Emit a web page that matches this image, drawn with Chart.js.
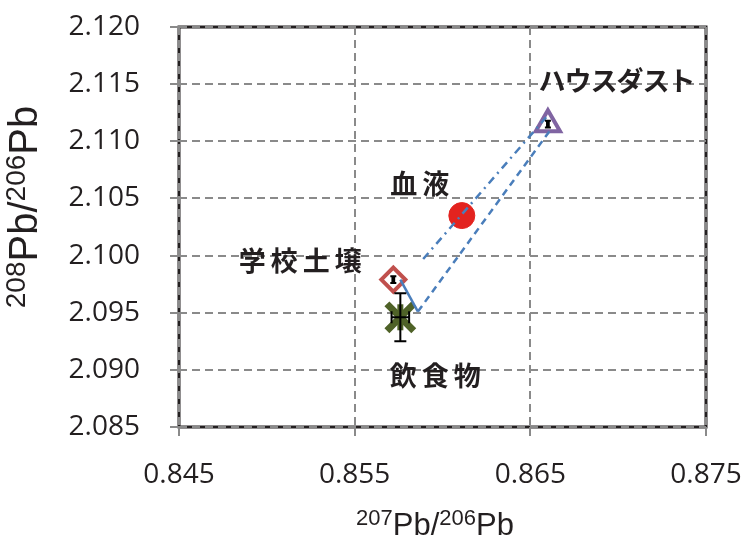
<!DOCTYPE html>
<html>
<head>
<meta charset="utf-8">
<script src="https://cdn.jsdelivr.net/npm/chart.js@4.4.0/dist/chart.umd.min.js"></script>
<style>
  html, body { margin: 0; padding: 0; background: #fff; }
  canvas { display: block; }
</style>
</head>
<body>
<canvas id="chart" width="747" height="540"></canvas>
<script>
// sample groups, 207Pb/206Pb (x) and 208Pb/206Pb (y)
const seriesNames = ['学校土壌', '飲食物', '血液', 'ハウスダスト'];
const pb207_206 = [0.8572, 0.8576, 0.8611, 0.8660];
const pb208_206 = [2.0979, 2.0946, 2.1035, 2.1115];
const errX = [0.00005, 0.0005, 0, 0.00005];
const errY = [0.0003, 0.0021, 0, 0.0003];

// connecting lines
const solidLineX = [0.8576, 0.8586];
const solidLineY = [2.0979, 2.0951];
const dashLineX = [0.8586, 0.8661];
const dashLineY = [2.0951, 2.1109];
const dashDotX = [0.8589, 0.8659];
const dashDotY = [2.0997, 2.1121];

const xTicks = [0.845, 0.855, 0.865, 0.875];
const yTicks = [2.085, 2.090, 2.095, 2.100, 2.105, 2.110, 2.115, 2.120];

const ink = '#231f20';

// marker look + where each name sits next to its marker (px)
const markerStyles = [
  { pointStyle: 'rectRot', radius: 12, border: '#c0504d', fill: '#ffffff', width: 4, cap: 3, label: [-93, -19], spacing: 5 },
  { pointStyle: 'crossRot', radius: 19, border: '#4f6228', fill: '#4f6228', width: 7, cap: 6, label: [35, 58], spacing: 5 },
  { pointStyle: 'circle', radius: 13, border: '#e3231f', fill: '#e3231f', width: 1, cap: 0, label: [-42, -32], spacing: 5 },
  { pointStyle: 'triangle', radius: 14, border: '#8064a2', fill: '#ffffff', width: 4, cap: 3, label: [69, -43], spacing: -1 }
];

function pts(xs, ys) {
  return xs.map((x, i) => ({ x: x, y: ys[i] }));
}

const datasets = [
  { data: pts(solidLineX, solidLineY), showLine: true, borderColor: '#4a7ebb', borderWidth: 2.5, pointRadius: 0, order: 0 },
  { data: pts(dashLineX, dashLineY), showLine: true, borderColor: '#4a7ebb', borderWidth: 2.5, borderDash: [7, 5], pointRadius: 0, order: 0 },
  { data: pts(dashDotX, dashDotY), showLine: true, borderColor: '#4a7ebb', borderWidth: 2.5, borderDash: [8, 5, 2, 5], pointRadius: 0, order: 0 }
];

seriesNames.forEach((name, i) => {
  const s = markerStyles[i];
  datasets.push({
    label: name,
    data: [{ x: pb207_206[i], y: pb208_206[i] }],
    pointStyle: s.pointStyle,
    pointRadius: s.radius,
    pointBorderWidth: s.width,
    pointBorderColor: s.border,
    pointBackgroundColor: s.fill,
    order: 2
  });
});
// vertical stroke of the star marker
datasets.push({
  data: [{ x: pb207_206[1], y: pb208_206[1] }],
  pointStyle: 'line',
  rotation: 90,
  pointRadius: 13,
  pointBorderWidth: 6,
  pointBorderColor: '#4f6228',
  order: 1
});

function drawIsotope(ctx, parts, big, sup, raise) {
  let total = 0;
  parts.forEach(p => {
    ctx.font = (p[1] ? sup : big) + 'px "Liberation Sans", Arial, sans-serif';
    total += ctx.measureText(p[0]).width;
  });
  let x = -total / 2;
  parts.forEach(p => {
    ctx.font = (p[1] ? sup : big) + 'px "Liberation Sans", Arial, sans-serif';
    ctx.fillText(p[0], x, p[1] ? -raise : 0);
    x += ctx.measureText(p[0]).width;
  });
}

const overlay = {
  id: 'overlay',
  beforeDraw(chart) {
    const { ctx, chartArea: a } = chart;
    ctx.save();
    ctx.strokeStyle = ink;
    ctx.lineWidth = 3;
    ctx.strokeRect(a.left, a.top, a.right - a.left, a.bottom - a.top);
    ctx.restore();
  },
  afterDatasetsDraw(chart) {
    const ctx = chart.ctx;
    const xs = chart.scales.x, ys = chart.scales.y;
    ctx.save();
    ctx.strokeStyle = '#000';
    ctx.lineWidth = 2;
    pb207_206.forEach((v, i) => {
      const px = xs.getPixelForValue(v);
      const py = ys.getPixelForValue(pb208_206[i]);
      const s = markerStyles[i];
      const cap = s.cap;
      ctx.beginPath();
      if (errY[i] > 0) {
        const t = ys.getPixelForValue(pb208_206[i] + errY[i]);
        const b = ys.getPixelForValue(pb208_206[i] - errY[i]);
        ctx.moveTo(px, t); ctx.lineTo(px, b);
        ctx.moveTo(px - cap, t); ctx.lineTo(px + cap, t);
        ctx.moveTo(px - cap, b); ctx.lineTo(px + cap, b);
      }
      if (errX[i] > 0) {
        const l = xs.getPixelForValue(v - errX[i]);
        const r = xs.getPixelForValue(v + errX[i]);
        ctx.moveTo(l, py); ctx.lineTo(r, py);
        ctx.moveTo(l, py - cap); ctx.lineTo(l, py + cap);
        ctx.moveTo(r, py - cap); ctx.lineTo(r, py + cap);
      }
      ctx.stroke();

      // group name
      ctx.fillStyle = ink;
      ctx.font = 'bold 27px "Noto Sans CJK JP", sans-serif';
      ctx.letterSpacing = s.spacing + 'px';
      ctx.textAlign = 'center';
      ctx.textBaseline = 'middle';
      ctx.fillText(seriesNames[i], px + s.label[0] + s.spacing / 2, py + s.label[1]);
    });
    ctx.restore();
  },
  afterDraw(chart) {
    const ctx = chart.ctx;
    ctx.save();
    ctx.fillStyle = ink;
    ctx.textAlign = 'left';
    ctx.textBaseline = 'alphabetic';
    ctx.translate(435, 535);
    drawIsotope(ctx, [['207', 1], ['Pb/', 0], ['206', 1], ['Pb', 0]], 31, 22, 10);
    ctx.restore();
    ctx.save();
    ctx.fillStyle = ink;
    ctx.textAlign = 'left';
    ctx.textBaseline = 'alphabetic';
    ctx.translate(37, 207);
    ctx.rotate(-Math.PI / 2);
    drawIsotope(ctx, [['208', 1], ['Pb/', 0], ['206', 1], ['Pb', 0]], 40, 28, 12);
    ctx.restore();
  }
};

const gridStyle = {
  color: '#8a8a8a',
  lineWidth: 2,
  tickLength: 9,
  tickColor: '#8a8a8a',
  tickWidth: 2,
  tickBorderDash: []
};
const borderStyle = { display: false, dash: [8, 5] };

new Chart(document.getElementById('chart'), {
  type: 'scatter',
  data: { datasets: datasets },
  options: {
    responsive: false,
    animation: false,
    layout: { padding: { top: 27, right: 41, left: 0, bottom: 0 } },
    plugins: { legend: { display: false }, tooltip: { enabled: false } },
    scales: {
      x: {
        type: 'linear',
        min: 0.845,
        max: 0.875,
        afterBuildTicks: s => { s.ticks = xTicks.map(v => ({ value: v })); },
        afterFit: s => { s.height = 113; s.paddingLeft = 0; s.paddingRight = 0; },
        ticks: {
          callback: v => v.toFixed(3),
          color: ink,
          font: { family: '"Open Sans", sans-serif', size: 28 },
          padding: 22,
          maxRotation: 0
        },
        grid: gridStyle,
        border: borderStyle
      },
      y: {
        type: 'linear',
        min: 2.085,
        max: 2.120,
        afterBuildTicks: s => { s.ticks = yTicks.map(v => ({ value: v })); },
        afterFit: s => { s.width = 179; s.paddingTop = 0; s.paddingBottom = 0; },
        ticks: {
          callback: v => v.toFixed(3),
          color: ink,
          font: { family: '"Open Sans", sans-serif', size: 28 },
          padding: 30
        },
        grid: gridStyle,
        border: borderStyle
      }
    }
  },
  plugins: [overlay]
});
</script>
</body>
</html>
